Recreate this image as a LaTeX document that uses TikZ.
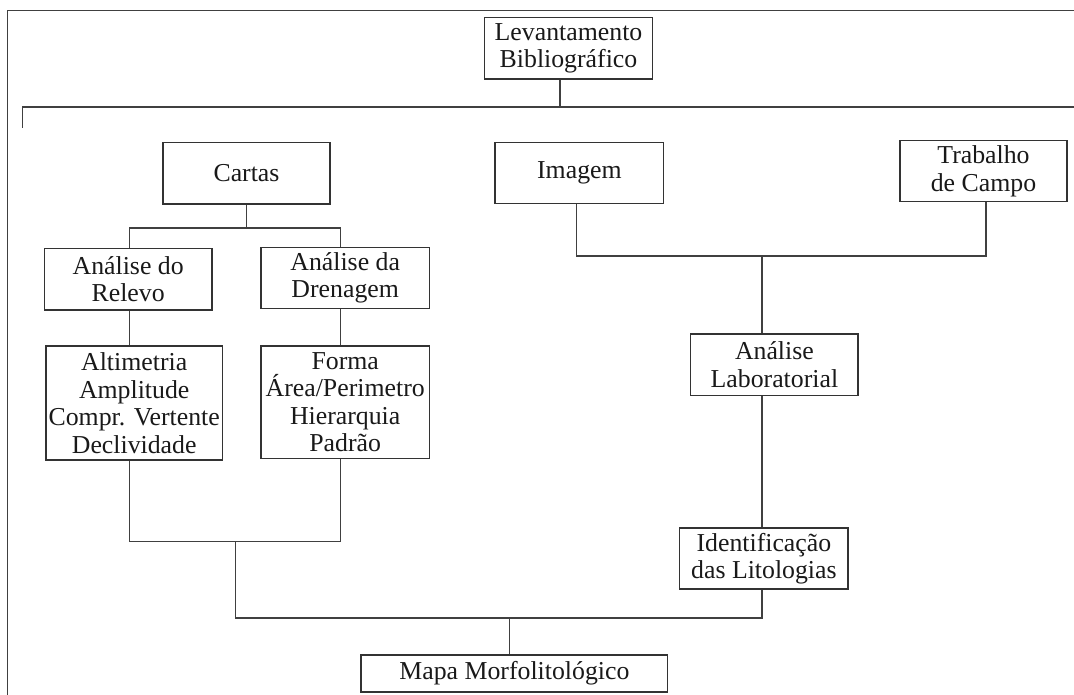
\documentclass[tikz,border=0pt]{standalone}
\usepackage{fontspec}
\setmainfont{Liberation Serif}
\usepackage{tikz}

\begin{document}
\begin{tikzpicture}[x=1pt, y=-1pt,
  box/.style={draw=black!80, line width=1.3pt, align=center, inner sep=0pt,
    text=black!90, font=\fontsize{25.8}{27.5}\selectfont},
  link/.style={draw=black!75, line width=1.3pt}]
\useasboundingbox (0,0) rectangle (1074,695);
\draw[link] (7.5,695) -- (7.5,10.7) -- (1074,10.7);

% boxes
\node [box, minimum width=168pt, minimum height=61.7pt] (lev) at (568.5,48.2) {Levantamento\\Bibliográfico};
\node [box, minimum width=167pt, minimum height=61.3pt] (cartas) at (246.5,173.4) {Cartas};
\node [box, minimum width=168.7pt, minimum height=61pt] (imagem) at (579.4,172.8) {Imagem};
\node [box, minimum width=167pt, minimum height=61pt] (trabalho) at (983.5,171.2) {Trabalho\\de Campo};
\node [box, minimum width=167.7pt, minimum height=61.7pt] (relevo) at (128.2,279.2) {Análise do\\Relevo};
\node [box, minimum width=168.3pt, minimum height=61pt] (drenagem) at (345.2,278) {Análise da\\Drenagem};
\node [box, minimum width=176.5pt, minimum height=114pt] (altim) at (134.2,403) {Altimetria\\Amplitude\\Compr. Vertente\\Declividade};
\node [box, minimum width=168.3pt, minimum height=112.5pt] (forma) at (345.2,402.2) {Forma\\Área/Perimetro\\Hierarquia\\Padrão};
\node [box, minimum width=167.3pt, minimum height=61.7pt] (lab) at (774.4,364.9) {Análise\\Laboratorial};
\node [box, minimum width=168.3pt, minimum height=61pt] (ident) at (763.9,558.5) {Identificação\\das Litologias};
\node [box, minimum width=306.7pt, minimum height=37pt] (mapa) at (514.4,673.5) {Mapa Morfolitológico};

% junctions
\coordinate (jtop) at (560,107);
\coordinate (barl) at (22.3,107);
\coordinate (barr) at (1074,107);
\coordinate (tick) at (22.3,127.7);
\coordinate (ja) at (129.3,228);
\coordinate (jb) at (340.7,228);
\coordinate (ua) at (129.3,541.7);
\coordinate (ub) at (340.7,541.7);
\coordinate (um) at (235.3,541.7);
\coordinate (lowl) at (235.3,618);
\coordinate (lowr) at (762,618);
\coordinate (jm) at (509.3,618);
\coordinate (ji) at (576.5,256);
\coordinate (jt) at (986,256);
\coordinate (jl) at (762,256);

% connectors
\draw[link] (lev.south -| jtop) -- (jtop);
\draw[link] (tick) -- (barl) -- (barr);
\draw[link] (cartas.south) -- (cartas.south |- ja);
\draw[link] (relevo.north -| ja) -- (ja) -- (jb) -- (drenagem.north -| jb);
\draw[link] (relevo.south -| ja) -- (altim.north -| ja);
\draw[link] (drenagem.south -| jb) -- (forma.north -| jb);
\draw[link] (altim.south -| ua) -- (ua) -- (ub) -- (forma.south -| ub);
\draw[link] (um) -- (lowl) -- (lowr) -- (ident.south -| lowr);
\draw[link] (jm) -- (mapa.north -| jm);
\draw[link] (imagem.south -| ji) -- (ji) -- (jt) -- (trabalho.south -| jt);
\draw[link] (jl) -- (lab.north -| jl);
\draw[link] (lab.south -| jl) -- (ident.north -| jl);
\end{tikzpicture}
\end{document}
